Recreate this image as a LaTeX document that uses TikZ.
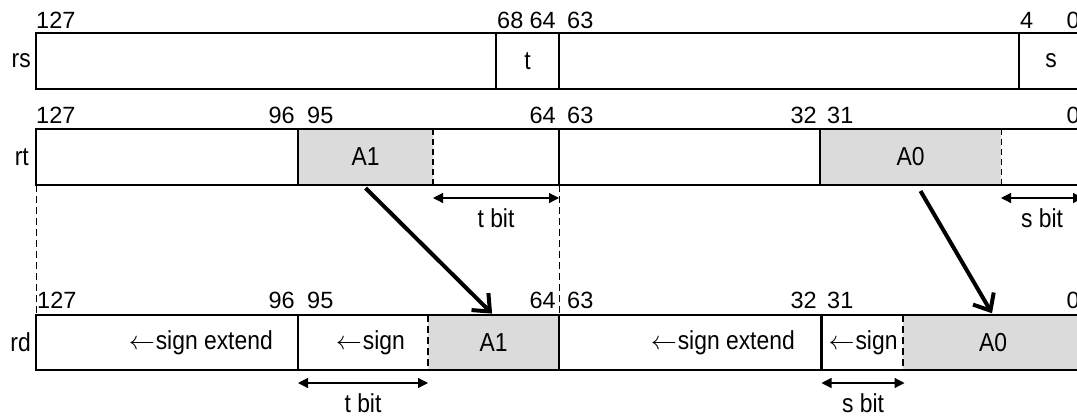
\RequirePackage{fix-cm}
\documentclass[tikz,border=0pt]{standalone}
\usepackage{fontspec}
\setmainfont{Liberation Sans}
\newfontfamily\fieldfont{Liberation Sans}[FakeStretch=0.88]
\usetikzlibrary{positioning,arrows.meta}
\definecolor{fieldgray}{gray}{0.86}

\begin{document}
\begin{tikzpicture}[x=1pt, y=-1pt,
  font=\fieldfont\fontsize{26pt}{30pt}\selectfont,
  cell/.style={minimum height=56pt, inner sep=0pt, outer sep=0pt},
  packed/.style={cell, fill=fieldgray},
  bitlabel/.style={inner sep=0pt},
  bitno/.style={inner sep=0pt, font=\normalfont\fontsize{23.5pt}{27pt}\selectfont},
  regname/.style={inner sep=0pt, anchor=east},
  thinbox/.style={line width=1.2pt},
  thickbox/.style={line width=2.6pt},
  guideline/.style={line width=1pt, dash pattern=on 7pt off 4pt},
  bitspan/.style={line width=1.2pt, {Triangle[length=10pt,width=10pt]}-{Triangle[length=10pt,width=10pt]}},
  movearrow/.style={line width=4pt, -{Straight Barb[length=14pt,width=24pt]}, shorten >=2pt}
]
  \path[use as bounding box] (0,0) rectangle (1077,416);
  \clip (0,0) rectangle (1077,416);

  % register rs
  \node[cell, minimum width=460pt] (rsHi) at (266,61) {};
  \node[cell, minimum width=63pt] (rsT) at (527.5,61) {t};
  \node[cell, minimum width=460pt] (rsLo) at (789,61) {};
  \node[cell, minimum width=64pt] (rsS) at (1051,61) {s};
  \draw[thinbox] (rsHi.north west) rectangle (rsS.south east);
  \draw[thinbox] (rsT.north west) -- (rsT.south west)
    (rsT.north east) -- (rsT.south east)
    (rsS.north west) -- (rsS.south west);

  % register rt
  \node[cell, minimum width=262pt] (rtHi) at (167,157) {};
  \node[packed, minimum width=135pt] (rtA1) at (365.5,157) {A1};
  \node[cell, minimum width=126pt] (rtT) at (496,157) {};
  \node[cell, minimum width=261pt] (rtLo) at (689.5,157) {};
  \node[packed, minimum width=181pt] (rtA0) at (910.5,157) {A0};
  \node[cell, minimum width=82pt] (rtS) at (1042,157) {};
  \draw[thinbox] (rtHi.north west) rectangle (rtS.south east);
  \draw[thinbox] (rtA1.north west) -- (rtA1.south west)
    (rtLo.north west) -- (rtLo.south west)
    (rtA0.north west) -- (rtA0.south west);
  \draw[line width=1.8pt, dash pattern=on 6pt off 4pt] (rtA1.north east) -- (rtA1.south east);
  \draw[line width=0.8pt, dash pattern=on 6pt off 4pt] (rtA0.north east) -- (rtA0.south east);

  % register rd
  \node[cell, minimum height=55pt, minimum width=262pt] (rdHi) at (167,342.5) {};
  \node[cell, minimum height=55pt, minimum width=130pt] (rdSg1) at (363,342.5) {};
  \node[packed, minimum height=55pt, minimum width=131pt] (rdA1) at (493.5,342.5) {A1};
  \node[cell, minimum height=55pt, minimum width=261pt] (rdLo) at (689.5,342.5) {};
  \node[cell, minimum height=55pt, minimum width=83pt] (rdSg0) at (863,342.5) {$\leftarrow$\kern1pt sign};
  \node[packed, minimum height=55pt, minimum width=180pt] (rdA0) at (993,342.5) {A0};
  \node[bitlabel, anchor=east] (rdHiTxt) at ([xshift=-25pt]rdHi.east) {$\leftarrow$\kern1pt sign extend};
  \node[bitlabel, anchor=east] (rdSg1Txt) at ([xshift=-23pt]rdSg1.east) {$\leftarrow$\kern1pt sign};
  \node[bitlabel, anchor=east] (rdLoTxt) at ([xshift=-25pt]rdLo.east) {$\leftarrow$\kern1pt sign extend};
  \draw[thickbox] (rdHi.north west) rectangle (rdA0.south east);
  \draw[thickbox] (rdSg1.north west) -- (rdSg1.south west)
    (rdLo.north west) -- (rdLo.south west)
    (rdSg0.north west) -- (rdSg0.south west);
  \draw[thickbox, dash pattern=on 7pt off 4pt] (rdA1.north west) -- (rdA1.south west)
    (rdA0.north west) -- (rdA0.south west);

  % bit numbers
  \foreach \v/\x/\a in {127/36/west, 68/497/west, 64/556/east, 63/567/west, 4/1020/west, 0/1080/east}
    \node[bitno, anchor=base \a] (rs\v) at (\x,28) {\v};
  \foreach \v/\x/\a in {127/36/west, 96/295/east, 95/307/west, 64/556/east, 63/567/west, 32/817/east, 31/827/west, 0/1080/east}
    \node[bitno, anchor=base \a] (rt\v) at (\x,123) {\v};
  \foreach \v/\x/\a in {127/37/west, 96/295/east, 95/307/west, 64/556/east, 63/567/west, 32/817/east, 31/827/west, 0/1080/east}
    \node[bitno, anchor=base \a] (rd\v) at (\x,308) {\v};

  % register names
  \node[regname] (rsName) at (31,61) {rs};
  \node[regname] (rtName) at (29,157) {rt};
  \node[regname] (rdName) at (31,342.5) {rd};

  % guides
  \draw[guideline] (rtHi.south west) -- (rdHi.north west);
  \draw[guideline] (rtT.south east) -- (rdA1.north east);

  % shift amounts
  \draw[bitspan] ([yshift=-13pt]rtT.south west) -- node[bitlabel, below=10pt] (rtTbit) {t bit} ([yshift=-13pt]rtT.south east);
  \draw[bitspan] ([yshift=-13pt]rtS.south west) -- node[bitlabel, below=10pt] (rtSbit) {s bit} ([yshift=-13pt]rtS.south east);
  \draw[bitspan] ([yshift=-13pt]rdSg1.south west) -- node[bitlabel, below=10pt] (rdTbit) {t bit} ([yshift=-13pt]rdSg1.south east);
  \draw[bitspan] ([yshift=-13pt]rdSg0.south west) -- node[bitlabel, below=10pt] (rdSbit) {s bit} ([yshift=-13pt]rdSg0.south east);

  % moves
  \draw[movearrow] ([yshift=-3pt]rtA1.south) -- (rdA1.north);
  \draw[movearrow] ([xshift=10pt,yshift=-6pt]rtA0.south) -- (rdA0.north);
\end{tikzpicture}
\end{document}
